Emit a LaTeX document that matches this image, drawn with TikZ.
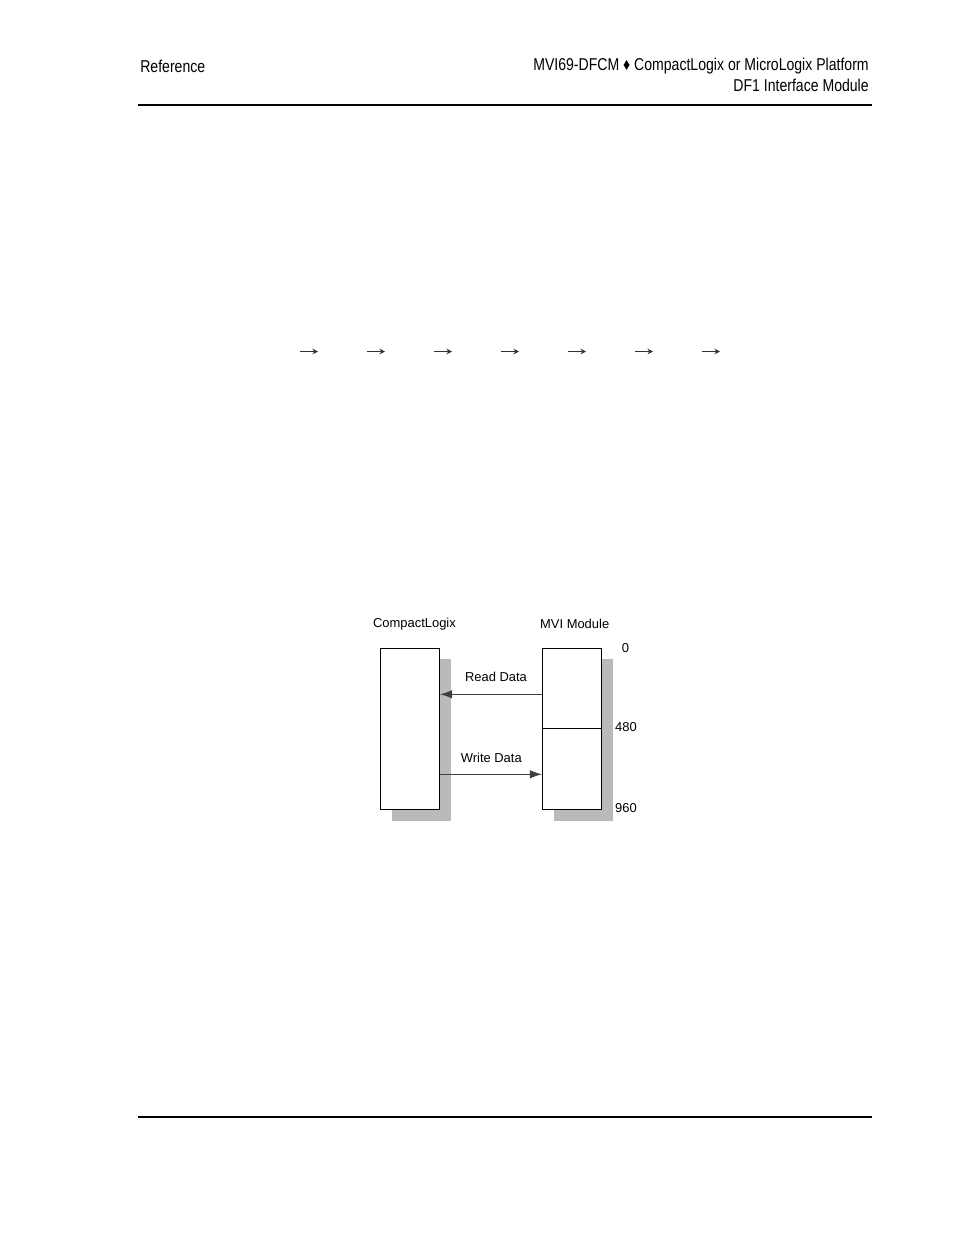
\documentclass[tikz,border=0pt]{standalone}
\usepackage{fontspec}
\setmainfont{Liberation Sans}
\newfontfamily\narrowfont[FakeStretch=0.82]{Liberation Sans}
\usetikzlibrary{arrows.meta}

\tikzset{
	hdr/.style={font=\narrowfont\fontsize{11}{13}\selectfont, inner sep=0pt},
	lbl/.style={font=\fontsize{8.3}{10}\selectfont, inner sep=0pt},
	membox/.style={draw=black, fill=white, line width=0.5pt, minimum width=37.6pt, minimum height=103.3pt, inner sep=0pt},
	memshadow/.style={fill=black!27, draw=none, minimum width=37.6pt, minimum height=103.3pt, inner sep=0pt},
	flow/.style={draw=black!75, line width=1pt, -{Latex[length=8pt, width=5.5pt]}},
	rowarrow/.style={draw=black!80, line width=1.1pt, -{Stealth[length=3.5pt, width=3.5pt]}}
}

\begin{document}
\begin{tikzpicture}[x=0.6415pt, y=-0.6415pt]
			\useasboundingbox[fill=white] (0,0) rectangle (954,1235);
			% page header
			\node[hdr, anchor=west] (hdrleft) at (140,66) {Reference};
			\node[hdr, anchor=east] (hdrtop) at (869,66) {MVI69-DFCM \symbol{"2666} CompactLogix or MicroLogix Platform};
			\node[hdr, anchor=east] (hdrbot) at (869,85) {DF1 Interface Module};
			\draw [black, line width=0.8pt] (138,105) -- (872,105);
			\draw [black, line width=0.8pt] (138,1117) -- (872,1117);
			
			% row of arrows
			\foreach \x [count=\i] in {300,367,434,501,568,635,702} {
				\coordinate (arrs\i) at (\x,351.5);
				\coordinate (arre\i) at (\x+18,351.5);
				\draw [rowarrow] (arrs\i) -- (arre\i);
			}
			
			% shadows
			\node[memshadow] (clxshadow) at (421.5,740) {};
			\node[memshadow] (mvishadow) at (583.5,740) {};
			
			% memory boxes
			\node[membox] (clx) at (410,728.7) {};
			\node[membox] (mvi) at (572,728.7) {};
			\draw [black, line width=0.5pt] (mvi.west |- 0,728.3) -- (mvi.east |- 0,728.3);
			
			\node[lbl] (clxname) at (414.5,624) {CompactLogix};
			\node[lbl] (mviname) at (574.7,624) {MVI Module};
			\node[lbl] (addr0) at (625.5,648.5) {0};
			\node[lbl] (addr480) at (626,727.5) {480};
			\node[lbl] (addr960) at (626,808.5) {960};
			
			% data transfer
			\coordinate (rdfrom) at (mvi.west |- 0,694.3);
			\coordinate (rdto) at (clx.east |- 0,694.3);
			\coordinate (wrfrom) at (clx.east |- 0,774.3);
			\coordinate (wrto) at (mvi.west |- 0,774.3);
			\draw [flow] (rdfrom) -- (rdto);
			\draw [flow] (wrfrom) -- (wrto);
			\node[lbl] (rdlabel) at (496,676.5) {Read Data};
			\node[lbl] (wrlabel) at (491.3,757.7) {Write Data};
			
		\end{tikzpicture}
\end{document}
